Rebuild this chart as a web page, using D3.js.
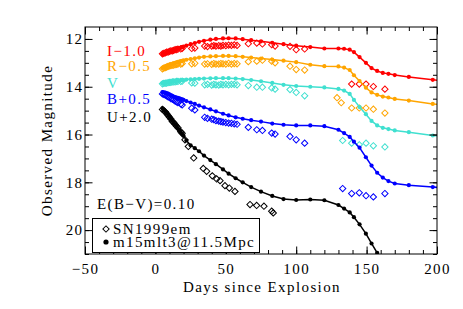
<!DOCTYPE html>
<html>
<head>
<meta charset="utf-8">
<style>
  body { margin: 0; background: #fff; }
  svg { display: block; font-family: 'Liberation Serif', 'Times New Roman', serif; }
  .lbl, .tick text { font-size: 15px; letter-spacing: 1.4px; font-family: 'Liberation Serif', serif; fill: #000; }
</style>
</head>
<body>
<svg width="463" height="309"></svg>
<script src="https://cdn.jsdelivr.net/npm/d3@7"></script>
<script>
// model light curve (m15mlt3 @ 11.5 Mpc), filled circles + line
let modelDays = [5, 6, 7, 8, 9, 10, 11, 12, 13, 14, 15, 16, 17, 18, 19, 20,
  22, 25, 28, 31, 34.5, 39, 43, 48, 52, 57, 62, 68, 75, 83, 91, 100,
  110, 120, 130, 134, 138, 141, 145, 149.5, 153.5, 157.5, 161.5, 165.5, 170, 180, 197, 215]

let modelI = [12.65, 12.62, 12.60, 12.58, 12.56, 12.54, 12.52, 12.50, 12.47, 12.45, 12.42, 12.40, 12.38, 12.36, 12.34, 12.32,
  12.28, 12.22, 12.17, 12.12, 12.08, 12.03, 12.00, 11.98, 11.97, 11.98, 12.01, 12.05, 12.10, 12.16, 12.22, 12.28,
  12.34, 12.40, 12.40, 12.41, 12.45, 12.55, 12.76, 13.00, 13.22, 13.34, 13.42, 13.46, 13.51, 13.59, 13.71, 13.80]

let modelR = [13.22, 13.19, 13.16, 13.13, 13.10, 13.08, 13.06, 13.04, 13.02, 13.00, 12.98, 12.96, 12.95, 12.93, 12.92, 12.90,
  12.87, 12.84, 12.81, 12.78, 12.75, 12.73, 12.72, 12.71, 12.71, 12.72, 12.75, 12.78, 12.82, 12.86, 12.91, 12.97,
  13.08, 13.14, 13.15, 13.20, 13.30, 13.52, 13.76, 14.04, 14.24, 14.34, 14.41, 14.45, 14.51, 14.58, 14.72, 14.82]

let modelV = [13.84, 13.83, 13.82, 13.81, 13.80, 13.79, 13.78, 13.77, 13.77, 13.76, 13.75, 13.74, 13.74, 13.73, 13.72, 13.72,
  13.70, 13.69, 13.68, 13.67, 13.66, 13.65, 13.64, 13.64, 13.64, 13.66, 13.68, 13.72, 13.77, 13.84, 13.92, 13.97,
  14.00, 14.03, 14.09, 14.16, 14.30, 14.55, 14.85, 15.15, 15.43, 15.62, 15.72, 15.77, 15.83, 15.90, 16.04, 16.12]

let modelB = [14.22, 14.24, 14.25, 14.27, 14.29, 14.32, 14.35, 14.38, 14.41, 14.43, 14.45, 14.47, 14.49, 14.51, 14.53, 14.55,
  14.60, 14.66, 14.72, 14.79, 14.86, 14.95, 15.03, 15.13, 15.20, 15.28, 15.34, 15.40, 15.46, 15.54, 15.59, 15.62,
  15.62, 15.65, 15.80, 15.94, 16.10, 16.30, 16.55, 16.95, 17.30, 17.60, 17.80, 17.95, 18.05, 18.12, 18.20, 18.27]

let modelU = [14.90, 14.96, 15.03, 15.10, 15.18, 15.26, 15.34, 15.42, 15.50, 15.58, 15.66, 15.74, 15.82, 15.90, 15.98, 16.06,
  16.25, 16.45, 16.57, 16.70, 16.88, 17.07, 17.24, 17.46, 17.64, 17.83, 18.00, 18.20, 18.39, 18.57, 18.70, 18.74,
  18.72, 18.75, 18.95, 19.10, 19.26, 19.46, 19.76, 20.15, 20.56, 20.95, 21.35]

// SN1999em observations [day, mag], open diamonds
let obsI = [[5, 12.62], [6, 12.6], [7, 12.58], [8, 12.55], [9, 12.55], [10, 12.52], [11, 12.5], [12, 12.5], [13, 12.48], [14, 12.45],
  [15, 12.45], [16, 12.43], [18, 12.42], [19, 12.4], [25.8, 12.4], [28, 12.38], [35, 12.3], [37, 12.32], [40, 12.3], [41.5, 12.28],
  [43, 12.3], [45, 12.28], [46.5, 12.3], [48, 12.27], [50, 12.28], [52, 12.26], [54, 12.27], [56, 12.25], [58, 12.27], [66, 12.2],
  [72, 12.17], [76, 12.21], [82.6, 12.24], [85, 12.3], [95.6, 12.31], [100, 12.45], [106, 12.42],
  [139.4, 13.89], [144.8, 13.89], [149.6, 13.89], [154.8, 13.99], [163, 14.1]]

let obsR = [[5, 13.25], [6, 13.22], [7, 13.2], [8, 13.18], [9, 13.15], [10, 13.13], [11, 13.12], [12, 13.1], [13, 13.1], [14, 13.08],
  [15, 13.06], [16, 13.05], [18, 13.05], [19, 13.03], [25.8, 13.04], [28, 13.02], [35, 13.05], [37, 13.04], [40, 13.06], [41.5, 13.03],
  [43, 13.05], [45, 13.05], [46.5, 13.03], [48, 13.04], [50, 13.05], [52, 13.02], [54, 13.05], [56, 13.03], [58, 13.04], [66, 12.95],
  [72, 12.93], [76, 12.89], [82.6, 12.93], [85, 13.0], [95.6, 13.14], [100, 13.28], [106, 13.3],
  [129, 14.46], [132, 14.67], [139.4, 14.89], [144.8, 14.89], [149.6, 14.89], [154.8, 14.94], [163, 15.1]]

let obsV = [[5, 13.88], [6, 13.86], [7, 13.85], [8, 13.85], [9, 13.83], [10, 13.82], [11, 13.82], [12, 13.8], [13, 13.8], [14, 13.8],
  [15, 13.78], [16, 13.78], [18, 13.78], [19, 13.77], [25.8, 13.84], [28, 13.85], [35, 13.92], [37, 13.9], [40, 13.93], [41.5, 13.9],
  [43, 13.92], [45, 13.93], [46.5, 13.9], [48, 13.92], [50, 13.9], [52, 13.92], [54, 13.9], [56, 13.9], [58, 13.92], [66, 13.95],
  [72, 14.02], [76, 14.02], [82.6, 14.05], [85, 14.1], [95.6, 14.12], [100, 14.24], [106, 14.38],
  [133, 16.25], [139.4, 16.36], [144.8, 16.43], [149.6, 16.36], [154.8, 16.47], [163, 16.52]]

let obsB = [[5, 14.3], [6, 14.32], [7, 14.35], [8, 14.38], [9, 14.42], [10, 14.45], [11, 14.5], [12, 14.52], [13, 14.55], [14, 14.6],
  [15, 14.63], [16, 14.66], [18, 14.72], [19, 14.76], [25.8, 14.9], [28, 14.97], [35, 15.28], [37, 15.32], [40, 15.36], [41.5, 15.38],
  [43, 15.42], [45, 15.44], [46.5, 15.46], [48, 15.48], [50, 15.5], [52, 15.52], [54, 15.53], [56, 15.55], [58, 15.57], [66, 15.7],
  [72, 15.8], [76, 15.83], [82.6, 15.94], [85, 15.98], [95.6, 16.08], [100, 16.22], [106, 16.36],
  [133, 18.26], [139.4, 18.47], [144.8, 18.44], [149.6, 18.56], [154.8, 18.61], [163, 18.47]]

let obsU = [[5, 14.95], [6, 15.0], [7, 15.05], [8, 15.12], [9, 15.2], [10, 15.28], [11, 15.35], [12, 15.45], [13, 15.5], [14, 15.58],
  [15, 15.65], [16, 15.72], [18, 15.88], [19, 15.95], [21, 16.22], [23.4, 16.5], [27.2, 16.98], [34, 17.42], [36.4, 17.54],
  [40.4, 17.73], [43.5, 17.86], [45.9, 17.93], [49.4, 18.14], [52.5, 18.24], [56.5, 18.38], [67.2, 18.93], [71.9, 18.97],
  [77.1, 19.0], [82.6, 19.21], [83.7, 19.28]]

let bandNames = ["I\u22121.0", "R\u22120.5", "V", "B+0.5", "U+2.0"]
let bandColors = ["#ff0000", "#ffa500", "#40e0d0", "#0000ff", "#000000"]
let xTicks = [-50, 0, 50, 100, 150, 200]
let yTicks = [12, 14, 16, 18, 20]

let bands = [
  { model: modelI, obs: obsI }, { model: modelR, obs: obsR }, { model: modelV, obs: obsV },
  { model: modelB, obs: obsB }, { model: modelU, obs: obsU }
]

let margin = { left: 85, right: 26, top: 27, bottom: 55 }
let width = 463, height = 309

let x = d3.scaleLinear().domain([-50, 200]).range([margin.left, width - margin.right])
let y = d3.scaleLinear().domain([11.5, 21]).range([margin.top, height - margin.bottom])

let svg = d3.select("svg")

svg.append("clipPath").attr("id", "plot")
  .append("rect")
  .attr("x", x(-50)).attr("y", y(11.5))
  .attr("width", x(200) - x(-50)).attr("height", y(21) - y(11.5))

let g = svg.append("g").attr("clip-path", "url(#plot)")

let line = d3.line().x(d => x(d[0])).y(d => y(d[1]))
let diamond = d3.symbol(d3.symbolSquare, 20)

bands.forEach((b, i) => {
  let col = bandColors[i]
  let pts = d3.zip(modelDays, b.model)

  // observed diamonds
  g.append("g").selectAll("path")
    .data(b.obs)
    .join("path")
    .attr("d", diamond)
    .attr("transform", d => `translate(${x(d[0])},${y(d[1])}) rotate(45)`)
    .style("fill", "none")
    .style("stroke", col)
    .style("stroke-width", 1)

  g.append("path")
    .datum(pts)
    .attr("d", line)
    .style("fill", "none")
    .style("stroke", col)
    .style("stroke-width", 1.5)

  g.append("g").selectAll("circle")
    .data(pts)
    .join("circle")
    .attr("cx", d => x(d[0]))
    .attr("cy", d => y(d[1]))
    .attr("r", 2.1)
    .style("fill", col)
})

// axes, ticks pointing inwards on all four sides
let x0 = x(-50), x1 = x(200), y0 = y(21), y1 = y(11.5)

svg.append("g").attr("transform", `translate(0,${y0})`)
  .call(d3.axisBottom(x).tickValues(xTicks).tickSize(-7.5).tickSizeOuter(0).tickPadding(9))
svg.append("g").attr("transform", `translate(0,${y0})`)
  .call(d3.axisBottom(x).tickValues(d3.range(-50, 201, 10)).tickSize(-4).tickSizeOuter(0).tickFormat(""))
svg.append("g").attr("transform", `translate(0,${y1})`)
  .call(d3.axisTop(x).tickValues(xTicks).tickSize(-7.5).tickSizeOuter(0).tickFormat(""))
svg.append("g").attr("transform", `translate(0,${y1})`)
  .call(d3.axisTop(x).tickValues(d3.range(-50, 201, 10)).tickSize(-4).tickSizeOuter(0).tickFormat(""))

svg.append("g").attr("transform", `translate(${x0},0)`)
  .call(d3.axisLeft(y).tickValues(yTicks).tickSize(-7.5).tickSizeOuter(0).tickPadding(1.5))
svg.append("g").attr("transform", `translate(${x0},0)`)
  .call(d3.axisLeft(y).tickValues(d3.range(12, 21.1, 0.5)).tickSize(-4).tickSizeOuter(0).tickFormat(""))
svg.append("g").attr("transform", `translate(${x1},0)`)
  .call(d3.axisRight(y).tickValues(yTicks).tickSize(-7.5).tickSizeOuter(0).tickFormat(""))
svg.append("g").attr("transform", `translate(${x1},0)`)
  .call(d3.axisRight(y).tickValues(d3.range(12, 21.1, 0.5)).tickSize(-4).tickSizeOuter(0).tickFormat(""))

svg.selectAll(".domain").remove()
svg.selectAll(".tick line").style("stroke", "#000").style("stroke-width", 1)

svg.append("rect")
  .attr("x", x0).attr("y", y1)
  .attr("width", x1 - x0).attr("height", y0 - y1)
  .style("fill", "none").style("stroke", "#000").style("stroke-width", 1)

// axis titles
svg.append("text").attr("class", "lbl")
  .attr("x", (x0 + x1) / 2 + 1).attr("y", 292)
  .attr("text-anchor", "middle")
  .text("Days since Explosion")

svg.append("text").attr("class", "lbl")
  .attr("transform", `translate(52,${(y0 + y1) / 2}) rotate(-90)`)
  .attr("text-anchor", "middle")
  .text("Observed Magnitude")

// band labels
let labelY = [56, 71, 87.5, 104, 122]
bandNames.forEach((name, i) => {
  svg.append("text").attr("class", "lbl")
    .attr("x", 107).attr("y", labelY[i])
    .style("fill", bandColors[i])
    .text(name)
})

svg.append("text").attr("class", "lbl")
  .attr("x", 97).attr("y", 209)
  .text("E(B\u2212V)=0.10")

// legend box
svg.append("rect")
  .attr("x", 92.5).attr("y", 218.5).attr("width", 167).attr("height", 34)
  .style("fill", "#fff").style("stroke", "#000").style("stroke-width", 1)

svg.append("path")
  .attr("d", diamond)
  .attr("transform", "translate(106,229) rotate(45)")
  .style("fill", "none").style("stroke", "#000")
svg.append("text").attr("class", "lbl")
  .attr("x", 113).attr("y", 233.5).text("SN1999em")

svg.append("circle").attr("cx", 106).attr("cy", 242).attr("r", 2.6).style("fill", "#000")
svg.append("text").attr("class", "lbl")
  .attr("x", 113).attr("y", 246.5).text("m15mlt3@11.5Mpc")
</script>
</body>
</html>
